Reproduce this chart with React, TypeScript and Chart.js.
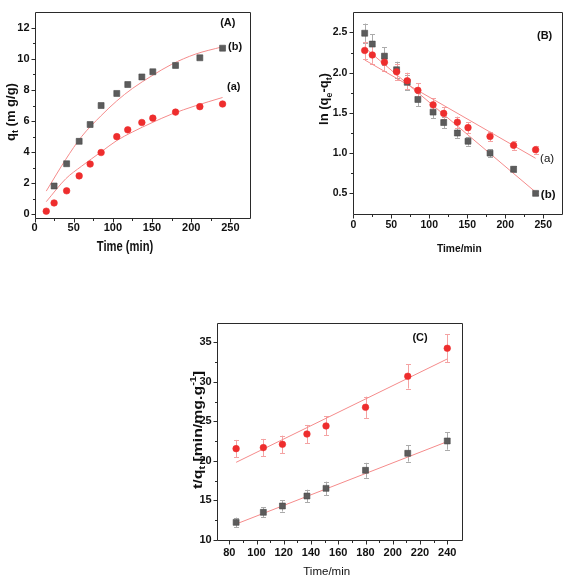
import React, { useEffect, useRef } from "react";
import { Chart, registerables } from "chart.js";
Chart.register(...registerables);

const W = 567;
const H = 578;
const FONT = "'Liberation Sans', Arial, Helvetica, sans-serif";

// ---------------- Panel A: qt vs time ----------------
const timeA = [15, 25, 41, 57, 71, 85, 105, 119, 137, 151, 180, 211, 240];
const qtA_a = [0.21, 0.74, 1.52, 2.48, 3.24, 3.98, 5.0, 5.44, 5.91, 6.19, 6.58, 6.93, 7.1];
const timeA_b = [25, 41, 57, 71, 85, 105, 119, 137, 151, 180, 211, 240];
const qtA_b = [1.83, 3.26, 4.7, 5.78, 7.0, 7.78, 8.35, 8.84, 9.17, 9.58, 10.07, 10.69];
const fitTimeA = [15, 40, 60, 85, 105, 125, 150, 175, 205, 240];
const fitA_a = [0.82, 2.3, 3.1, 4.02, 4.75, 5.3, 5.9, 6.45, 6.98, 7.52];
const fitA_b = [1.5, 3.55, 5.0, 6.35, 7.3, 8.1, 8.92, 9.65, 10.3, 10.78];
const xTicksA = [0, 50, 100, 150, 200, 250];
const xMinorA = [25, 75, 125, 175, 225];
const yTicksA = [0, 2, 4, 6, 8, 10, 12];
const yMinorA = [1, 3, 5, 7, 9, 11];

// ---------------- Panel B: ln(qe-qt) vs time ----------------
const timeB = [15, 25, 41, 57, 71, 85, 105, 119, 137, 151, 180, 211, 240];
const lnB_a = [2.276, 2.22, 2.13, 2.01, 1.9, 1.78, 1.6, 1.494, 1.384, 1.317, 1.207, 1.097, 1.042];
const errB_a = [0.11, 0.11, 0.11, 0.1, 0.1, 0.09, 0.08, 0.075, 0.07, 0.065, 0.06, 0.055, 0.05];
const lnB_b = [2.49, 2.355, 2.205, 2.036, 1.88, 1.667, 1.51, 1.38, 1.25, 1.148, 1.0, 0.8, 0.5];
const errB_b = [0.12, 0.12, 0.11, 0.1, 0.09, 0.085, 0.075, 0.07, 0.06, 0.055, 0.05, 0.04, 0.025];
const fitTimeB = [15, 240];
const fitB_a = [2.158, 0.936];
const fitB_b = [2.31, 0.516];
const xTicksB = [0, 50, 100, 150, 200, 250];
const xMinorB = [25, 75, 125, 175, 225];
const yTicksB = [0.5, 1.0, 1.5, 2.0, 2.5];
const yMinorB = [0.75, 1.25, 1.75, 2.25];

// ---------------- Panel C: t/qt vs time ----------------
const timeC = [85, 105, 119, 137, 151, 180, 211, 240];
const tqC_a = [21.55, 21.68, 22.1, 23.4, 24.42, 26.78, 30.7, 34.24];
const errC_a = [1.1, 1.1, 1.1, 1.15, 1.2, 1.35, 1.55, 1.75];
const tqC_b = [12.23, 13.5, 14.3, 15.56, 16.53, 18.81, 20.96, 22.52];
const errC_b = [0.6, 0.65, 0.7, 0.8, 0.85, 0.95, 1.05, 1.1];
const fitTimeC = [85, 240];
const fitC_a = [19.82, 32.89];
const fitC_b = [12.02, 22.44];
const xTicksC = [80, 100, 120, 140, 160, 180, 200, 220, 240];
const xMinorC = [90, 110, 130, 150, 170, 190, 210, 230];
const yTicksC = [10, 15, 20, 25, 30, 35];
const yMinorC = [12.5, 17.5, 22.5, 27.5, 32.5];

const RED = "#ee2d2d";
const GRAY = "#5c5c5c";
const FIT = "#f58b8b";
const ERR_RED = "#f4a3a3";
const ERR_GRAY = "#ababab";
const AXIS = "#2a2a2a";
const TEXT = "#111111";

type Seg = { t: string; kind?: "sub" | "sup" };
type TitleSpec = {
  segs: Seg[];
  x: number;
  y: number;
  size: number;
  bold: boolean;
  rotate: boolean;
  sx: number;
};
type Note = { text: string; x: number; y: number; size: number; bold: boolean };
type ErrGroup = { xs: number[]; ys: number[]; errs: number[]; color: string };

type Panel = {
  area: { l: number; t: number; r: number; b: number };
  x: { min: number; max: number; major: number[]; minor: number[]; pad: number; fmt?: (v: number) => string };
  y: { min: number; max: number; major: number[]; minor: number[]; pad: number; fmt?: (v: number) => string };
  tickFont: number;
  datasets: any[];
  errors: ErrGroup[];
  titles: TitleSpec[];
  notes: Note[];
};

const pts = (xs: number[], ys: number[]) => xs.map((x, i) => ({ x, y: ys[i] }));

function drawRich(ctx: CanvasRenderingContext2D, s: TitleSpec) {
  const w = s.bold ? "bold " : "";
  const fontFor = (seg: Seg) => `${w}${seg.kind ? s.size * 0.68 : s.size}px ${FONT}`;
  let total = 0;
  const widths = s.segs.map((seg) => {
    ctx.font = fontFor(seg);
    const m = ctx.measureText(seg.t).width;
    total += m;
    return m;
  });
  ctx.save();
  ctx.translate(s.x, s.y);
  if (s.rotate) ctx.rotate(-Math.PI / 2);
  ctx.scale(s.sx, 1);
  ctx.fillStyle = TEXT;
  ctx.textBaseline = "alphabetic";
  ctx.textAlign = "left";
  let x = -total / 2;
  const base = s.size * 0.36;
  s.segs.forEach((seg, i) => {
    ctx.font = fontFor(seg);
    const dy = seg.kind === "sub" ? s.size * 0.28 : seg.kind === "sup" ? -s.size * 0.4 : 0;
    ctx.fillText(seg.t, x, base + dy);
    x += widths[i];
  });
  ctx.restore();
}

const decorPlugin = {
  id: "decor",
  beforeDatasetsDraw(chart: any) {
    const p: Panel = chart.options.plugins.decor.panel;
    const ctx: CanvasRenderingContext2D = chart.ctx;
    const xs = chart.scales.x;
    const ys = chart.scales.y;
    ctx.save();
    ctx.lineWidth = 1;
    p.errors.forEach((g) => {
      ctx.strokeStyle = g.color;
      g.xs.forEach((xv, i) => {
        const px = Math.round(xs.getPixelForValue(xv)) + 0.5;
        const y1 = ys.getPixelForValue(g.ys[i] + g.errs[i]);
        const y2 = ys.getPixelForValue(g.ys[i] - g.errs[i]);
        ctx.beginPath();
        ctx.moveTo(px, y1);
        ctx.lineTo(px, y2);
        ctx.moveTo(px - 2.5, Math.round(y1) + 0.5);
        ctx.lineTo(px + 2.5, Math.round(y1) + 0.5);
        ctx.moveTo(px - 2.5, Math.round(y2) + 0.5);
        ctx.lineTo(px + 2.5, Math.round(y2) + 0.5);
        ctx.stroke();
      });
    });
    ctx.restore();
  },
  afterDraw(chart: any) {
    const p: Panel = chart.options.plugins.decor.panel;
    const ctx: CanvasRenderingContext2D = chart.ctx;
    const xs = chart.scales.x;
    const ys = chart.scales.y;
    const a = chart.chartArea;
    const L = Math.round(a.left) + 0.5;
    const R = Math.round(a.right) + 0.5;
    const T = Math.round(a.top) + 0.5;
    const B = Math.round(a.bottom) + 0.5;
    ctx.save();
    ctx.strokeStyle = AXIS;
    ctx.lineWidth = 1;
    ctx.beginPath();
    ctx.rect(L, T, R - L, B - T);
    p.x.major.forEach((v) => {
      const px = Math.round(xs.getPixelForValue(v)) + 0.5;
      ctx.moveTo(px, B);
      ctx.lineTo(px, B + 4);
    });
    p.x.minor.forEach((v) => {
      const px = Math.round(xs.getPixelForValue(v)) + 0.5;
      ctx.moveTo(px, B);
      ctx.lineTo(px, B + 2.5);
    });
    p.y.major.forEach((v) => {
      const py = Math.round(ys.getPixelForValue(v)) + 0.5;
      ctx.moveTo(L, py);
      ctx.lineTo(L - 4, py);
    });
    p.y.minor.forEach((v) => {
      const py = Math.round(ys.getPixelForValue(v)) + 0.5;
      ctx.moveTo(L, py);
      ctx.lineTo(L - 2.5, py);
    });
    ctx.stroke();
    p.notes.forEach((n) => {
      ctx.font = `${n.bold ? "bold " : ""}${n.size}px ${FONT}`;
      ctx.fillStyle = TEXT;
      ctx.textAlign = "center";
      ctx.textBaseline = "middle";
      ctx.fillText(n.text, xs.getPixelForValue(n.x), ys.getPixelForValue(n.y));
    });
    p.titles.forEach((t) => drawRich(ctx, t));
    ctx.restore();
  },
};

function buildConfig(p: Panel): any {
  const AX = 30;
  const tickFont = { family: FONT, size: p.tickFont, weight: "bold" as const };
  return {
    type: "scatter",
    data: { datasets: p.datasets },
    plugins: [decorPlugin],
    options: {
      responsive: false,
      animation: false,
      devicePixelRatio: 1,
      events: [],
      layout: {
        padding: {
          left: p.area.l - AX,
          top: p.area.t,
          right: W - p.area.r,
          bottom: H - p.area.b - AX,
        },
      },
      plugins: {
        legend: { display: false },
        tooltip: { enabled: false },
        decor: { panel: p },
      },
      scales: {
        x: {
          type: "linear",
          min: p.x.min,
          max: p.x.max,
          grid: { display: false, drawTicks: false },
          border: { display: false },
          afterFit: (s: any) => {
            s.height = AX;
          },
          afterBuildTicks: (s: any) => {
            s.ticks = p.x.major.map((v) => ({ value: v }));
          },
          ticks: {
            font: tickFont,
            color: TEXT,
            padding: p.x.pad,
            maxRotation: 0,
            autoSkip: false,
            callback: (v: any) => (p.x.fmt ? p.x.fmt(Number(v)) : String(v)),
          },
        },
        y: {
          type: "linear",
          min: p.y.min,
          max: p.y.max,
          grid: { display: false, drawTicks: false },
          border: { display: false },
          afterFit: (s: any) => {
            s.width = AX;
          },
          afterBuildTicks: (s: any) => {
            s.ticks = p.y.major.map((v) => ({ value: v }));
          },
          ticks: {
            font: tickFont,
            color: TEXT,
            padding: p.y.pad,
            autoSkip: false,
            callback: (v: any) => (p.y.fmt ? p.y.fmt(Number(v)) : String(v)),
          },
        },
      },
    },
  };
}

const sq = (data: any[]) => ({
  data,
  pointStyle: "rect",
  pointRadius: 4.2,
  backgroundColor: GRAY,
  borderColor: "#4a4a4a",
  borderWidth: 0.6,
  showLine: false,
});
const dot = (data: any[]) => ({
  data,
  pointStyle: "circle",
  pointRadius: 3.3,
  backgroundColor: RED,
  borderColor: RED,
  borderWidth: 0.6,
  showLine: false,
});
const fit = (data: any[], curve: boolean) => ({
  data,
  showLine: true,
  pointRadius: 0,
  borderColor: FIT,
  borderWidth: 1,
  cubicInterpolationMode: curve ? "monotone" : "default",
  tension: 0,
});

const panelA: Panel = {
  area: { l: 34.5, t: 2, r: 250, b: 218.5 },
  x: { min: 0, max: 275, major: xTicksA, minor: xMinorA, pad: 2.5 },
  y: { min: -0.26, max: 13.04, major: yTicksA, minor: yMinorA, pad: 5 },
  tickFont: 11,
  datasets: [dot(pts(timeA, qtA_a)), sq(pts(timeA_b, qtA_b)), fit(pts(fitTimeA, fitA_a), true), fit(pts(fitTimeA, fitA_b), true)],
  errors: [],
  titles: [
    { segs: [{ t: "Time (min)" }], x: 125, y: 246, size: 14, bold: true, rotate: false, sx: 0.8 },
    { segs: [{ t: "q" }, { t: "t", kind: "sub" }, { t: " (m g/g)" }], x: 10, y: 112, size: 13, bold: true, rotate: true, sx: 1 },
  ],
  notes: [
    { text: "(A)", x: 246.7, y: 12.31, size: 11, bold: true },
    { text: "(b)", x: 255.9, y: 10.74, size: 11, bold: true },
    { text: "(a)", x: 254.2, y: 8.2, size: 11, bold: true },
  ],
};

const panelB: Panel = {
  area: { l: 353.3, t: 2, r: 565, b: 213.5 },
  x: { min: 0, max: 275, major: xTicksB, minor: xMinorB, pad: 5 },
  y: { min: 0.25, max: 2.75, major: yTicksB, minor: yMinorB, pad: 6, fmt: (v) => v.toFixed(1) },
  tickFont: 10.5,
  datasets: [dot(pts(timeB, lnB_a)), sq(pts(timeB, lnB_b)), fit(pts(fitTimeB, fitB_a), false), fit(pts(fitTimeB, fitB_b), false)],
  errors: [
    { xs: timeB, ys: lnB_b, errs: errB_b, color: ERR_GRAY },
    { xs: timeB, ys: lnB_a, errs: errB_a, color: ERR_RED },
  ],
  titles: [
    { segs: [{ t: "Time/min" }], x: 459.3, y: 247.7, size: 11.5, bold: true, rotate: false, sx: 0.89 },
    {
      segs: [{ t: "ln (q" }, { t: "e", kind: "sub" }, { t: "-q" }, { t: "t", kind: "sub" }, { t: ")" }],
      x: 323.5,
      y: 99,
      size: 13,
      bold: true,
      rotate: true,
      sx: 1,
    },
  ],
  notes: [
    { text: "(B)", x: 251.9, y: 2.459, size: 11, bold: true },
    { text: "(a)", x: 255.1, y: 0.933, size: 11.5, bold: false },
    { text: "(b)", x: 256.5, y: 0.483, size: 11.5, bold: true },
  ],
};

const panelC: Panel = {
  area: { l: 216.7, t: 322.5, r: 461.7, b: 540 },
  x: { min: 70.75, max: 250.6, major: xTicksC, minor: xMinorC, pad: 6 },
  y: { min: 10, max: 37.5, major: yTicksC, minor: yMinorC, pad: 5 },
  tickFont: 11,
  datasets: [dot(pts(timeC, tqC_a)), sq(pts(timeC, tqC_b)), fit(pts(fitTimeC, fitC_a), false), fit(pts(fitTimeC, fitC_b), false)],
  errors: [
    { xs: timeC, ys: tqC_b, errs: errC_b, color: ERR_GRAY },
    { xs: timeC, ys: tqC_a, errs: errC_a, color: ERR_RED },
  ],
  titles: [
    { segs: [{ t: "Time/min" }], x: 326.7, y: 571, size: 11.5, bold: false, rotate: false, sx: 1 },
    {
      segs: [{ t: "t/q" }, { t: "t", kind: "sub" }, { t: " [min/mg.g" }, { t: "-1", kind: "sup" }, { t: "]" }],
      x: 197,
      y: 430,
      size: 13,
      bold: true,
      rotate: true,
      sx: 1.22,
    },
  ],
  notes: [{ text: "(C)", x: 220, y: 35.54, size: 11, bold: true }],
};

function PanelCanvas({ panel }: { panel: Panel }) {
  const ref = useRef<HTMLCanvasElement | null>(null);
  useEffect(() => {
    if (!ref.current) return;
    const chart = new Chart(ref.current, buildConfig(panel));
    return () => chart.destroy();
  }, [panel]);
  return (
    <canvas
      ref={ref}
      width={W}
      height={H}
      style={{ position: "absolute", left: 0, top: 0, width: W, height: H }}
    />
  );
}

export default function App() {
  return (
    <div style={{ position: "fixed", left: 0, top: 0, width: W, height: H, background: "#ffffff" }}>
      <PanelCanvas panel={panelA} />
      <PanelCanvas panel={panelB} />
      <PanelCanvas panel={panelC} />
    </div>
  );
}
